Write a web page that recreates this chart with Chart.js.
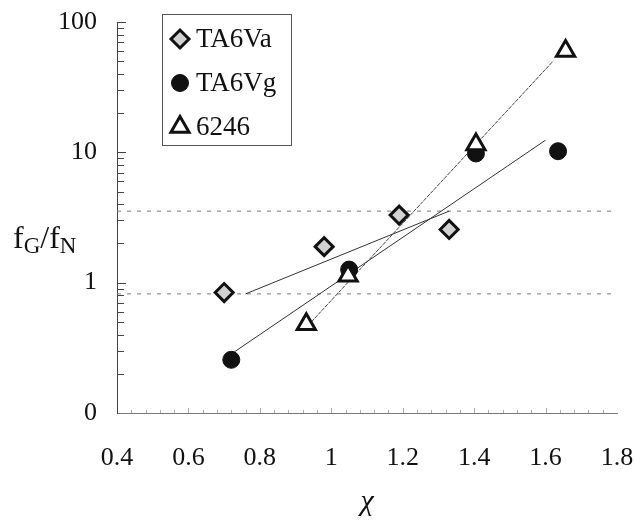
<!DOCTYPE html>
<html>
<head>
<meta charset="utf-8">
<script src="https://cdn.jsdelivr.net/npm/chart.js@4/dist/chart.umd.min.js"></script>
<style>
html,body{margin:0;padding:0;background:#fff;}
#wrap{width:635px;height:524px;position:relative;}
</style>
</head>
<body>
<div id="wrap"><canvas id="c" width="635" height="524"></canvas></div>
<script>
// ---- data ----
const seriesNames = ["TA6Va", "TA6Vg", "6246"];
const xTA6Va = [0.70, 0.98, 1.19, 1.33];
const yTA6Va = [0.84, 1.89, 3.30, 2.56];
const xTA6Vg = [0.72, 1.05, 1.405, 1.635];
const yTA6Vg = [0.256, 1.26, 9.8, 10.2];
const x6246  = [0.93, 1.047, 1.405, 1.656];
const y6246  = [0.48, 1.13, 11.5, 59.8];
// fitted trend lines (end points)
const fitXTA6Va = [0.76, 1.33];
const fitYTA6Va = [0.82, 3.54];
const fitXTA6Vg = [0.73, 1.60];
const fitYTA6Vg = [0.296, 12.4];
const fitX6246  = [0.935, 1.622];
const fitY6246  = [0.47, 50.4];
// dashed reference levels
const refLevels = [0.82, 3.54];
const refXRange = [0.4, 1.8];
// axes
const xTickLabels = ["0.4", "0.6", "0.8", "1", "1.2", "1.4", "1.6", "1.8"];
const yTickValues = [0.1, 1, 10, 100];
const yTickLabels = ["0", "1", "10", "100"];
const xTitle = "χ";

const pts = (xs, ys) => xs.map((x, i) => ({x: x, y: ys[i]}));
const SERIF = "'Liberation Serif', serif";

const datasets = [];
datasets.push({label: seriesNames[0], data: pts(xTA6Va, yTA6Va), pointStyle: 'rectRot', pointRadius: 9,
  backgroundColor: '#d2d2d2', borderColor: '#111', pointBorderWidth: 3, showLine: false, order: 2});
datasets.push({label: seriesNames[1], data: pts(xTA6Vg, yTA6Vg), pointStyle: 'circle', pointRadius: 8.5,
  backgroundColor: '#111', borderColor: '#111', pointBorderWidth: 1, showLine: false, order: 1});
datasets.push({label: seriesNames[2], data: pts(x6246, y6246), pointStyle: 'triangle', pointRadius: 10.5,
  backgroundColor: '#fff', borderColor: '#111', pointBorderWidth: 3, showLine: false, order: 0});
datasets.push({label: 'fit ' + seriesNames[0], data: pts(fitXTA6Va, fitYTA6Va), showLine: true, pointRadius: 0,
  borderColor: '#333', borderWidth: 1, order: 10, fill: false});
datasets.push({label: 'fit ' + seriesNames[1], data: pts(fitXTA6Vg, fitYTA6Vg), showLine: true, pointRadius: 0,
  borderColor: '#333', borderWidth: 1, order: 11, fill: false});
datasets.push({label: 'fit ' + seriesNames[2], data: pts(fitX6246, fitY6246), showLine: true, pointRadius: 0,
  borderColor: '#444', borderWidth: 1, borderDash: [4, 1], order: 12, fill: false});
refLevels.forEach((lv, i) => {
  datasets.push({label: 'ref' + i, data: refXRange.map(x => ({x: x, y: lv})), showLine: true, pointRadius: 0,
    borderColor: '#777', borderWidth: 1, borderDash: [4, 6], order: 20 + i, fill: false});
});

const isDecade = v => yTickValues.some(d => Math.abs(Math.log10(v) - Math.log10(d)) < 1e-6);

const inwardTicks = {
  id: 'inwardTicks',
  afterDraw(chart) {
    const ctx = chart.ctx;
    const ys = chart.scales.y, xs = chart.scales.x;
    ctx.save();
    ctx.lineWidth = 1;
    ctx.strokeStyle = '#444';
    ys.ticks.forEach(t => {
      if (t.value <= 0.1 + 1e-9) return;
      const py = Math.round(ys.getPixelForValue(t.value)) + 0.5;
      const len = isDecade(t.value) ? 9 : 7;
      ctx.beginPath();
      ctx.moveTo(ys.right, py);
      ctx.lineTo(ys.right + len, py);
      ctx.stroke();
    });
    ctx.strokeStyle = '#aaa';
    const step = 0.04;
    for (let v = xs.min + step; v < xs.max - 1e-9; v += step) {
      const px = Math.round(xs.getPixelForValue(v)) + 0.5;
      const major = Math.abs(v * 5 - Math.round(v * 5)) < 1e-6;
      ctx.beginPath();
      ctx.moveTo(px, xs.top);
      ctx.lineTo(px, xs.top - (major ? 5 : 3));
      ctx.stroke();
    }
    ctx.restore();
  }
};

const legendBox = {
  id: 'legendBox',
  afterDraw(chart) {
    const ctx = chart.ctx;
    ctx.save();
    ctx.strokeStyle = '#555';
    ctx.lineWidth = 1;
    ctx.strokeRect(162.5, 14.5, 129, 131);
    const rows = [39, 83, 127];
    [0, 1, 2].forEach((di, i) => {
      const ds = chart.data.datasets[di];
      const y = rows[i];
      ctx.fillStyle = ds.backgroundColor;
      ctx.strokeStyle = ds.borderColor;
      ctx.lineWidth = ds.pointBorderWidth;
      Chart.helpers.drawPoint(ctx, {pointStyle: ds.pointStyle, radius: ds.pointRadius, borderWidth: ds.pointBorderWidth, rotation: 0}, 180, y);
      ctx.fillStyle = '#111';
      ctx.font = "27px " + SERIF;
      ctx.textBaseline = 'middle';
      ctx.textAlign = 'left';
      ctx.fillText(ds.label, 196, y + 1);
    });
    ctx.restore();
  }
};

const yTitle = {
  id: 'yTitle',
  afterDraw(chart) {
    const ctx = chart.ctx;
    ctx.save();
    ctx.fillStyle = '#111';
    ctx.textBaseline = 'alphabetic';
    ctx.textAlign = 'left';
    const big = "32px " + SERIF, small = "23px " + SERIF;
    let x = 13; const base = 248, subBase = 253;
    const parts = [["f", big, base], ["G", small, subBase], ["/", big, base], ["f", big, base], ["N", small, subBase]];
    parts.forEach(([t, f, b]) => {
      ctx.font = f;
      ctx.fillText(t, x, b);
      x += ctx.measureText(t).width;
    });
    ctx.restore();
  }
};

new Chart(document.getElementById('c'), {
  type: 'scatter',
  data: {datasets: datasets},
  options: {
    responsive: false,
    animation: false,
    layout: {padding: {top: 22, right: 18, left: 0, bottom: 0}},
    plugins: {legend: {display: false}, tooltip: {enabled: false}},
    scales: {
      x: {
        type: 'linear', min: 0.4, max: 1.8,
        afterFit(s) { s.height = 111; s.paddingLeft = 0; s.paddingRight = 0; },
        ticks: {
          stepSize: 0.2, autoSkip: false, padding: 30, color: '#111',
          font: {family: SERIF, size: 26},
          callback: (v, i) => xTickLabels[i]
        },
        grid: {display: false, drawTicks: false},
        border: {display: true, color: '#777', width: 1},
        title: {display: true, text: xTitle, color: '#111', font: {family: SERIF, size: 30, style: 'italic'}, padding: {top: 8}}
      },
      y: {
        type: 'logarithmic', min: 0.1, max: 100,
        afterFit(s) { s.width = 117; s.paddingTop = 0; s.paddingBottom = 0; },
        afterBuildTicks(s) {
          const t = [];
          for (let e = -1; e < 2; e++) for (let m = 1; m < 10; m++) t.push({value: m * Math.pow(10, e)});
          t.push({value: 100});
          s.ticks = t;
        },
        ticks: {
          autoSkip: false, padding: 20, color: '#111',
          font: {family: SERIF, size: 26},
          callback: (v) => {
            const k = yTickValues.findIndex(d => Math.abs(Math.log10(v) - Math.log10(d)) < 1e-6);
            return k >= 0 ? yTickLabels[k] : '';
          }
        },
        grid: {display: false, drawTicks: false},
        border: {display: true, color: '#444', width: 1}
      }
    }
  },
  plugins: [inwardTicks, legendBox, yTitle]
});
</script>
</body>
</html>
